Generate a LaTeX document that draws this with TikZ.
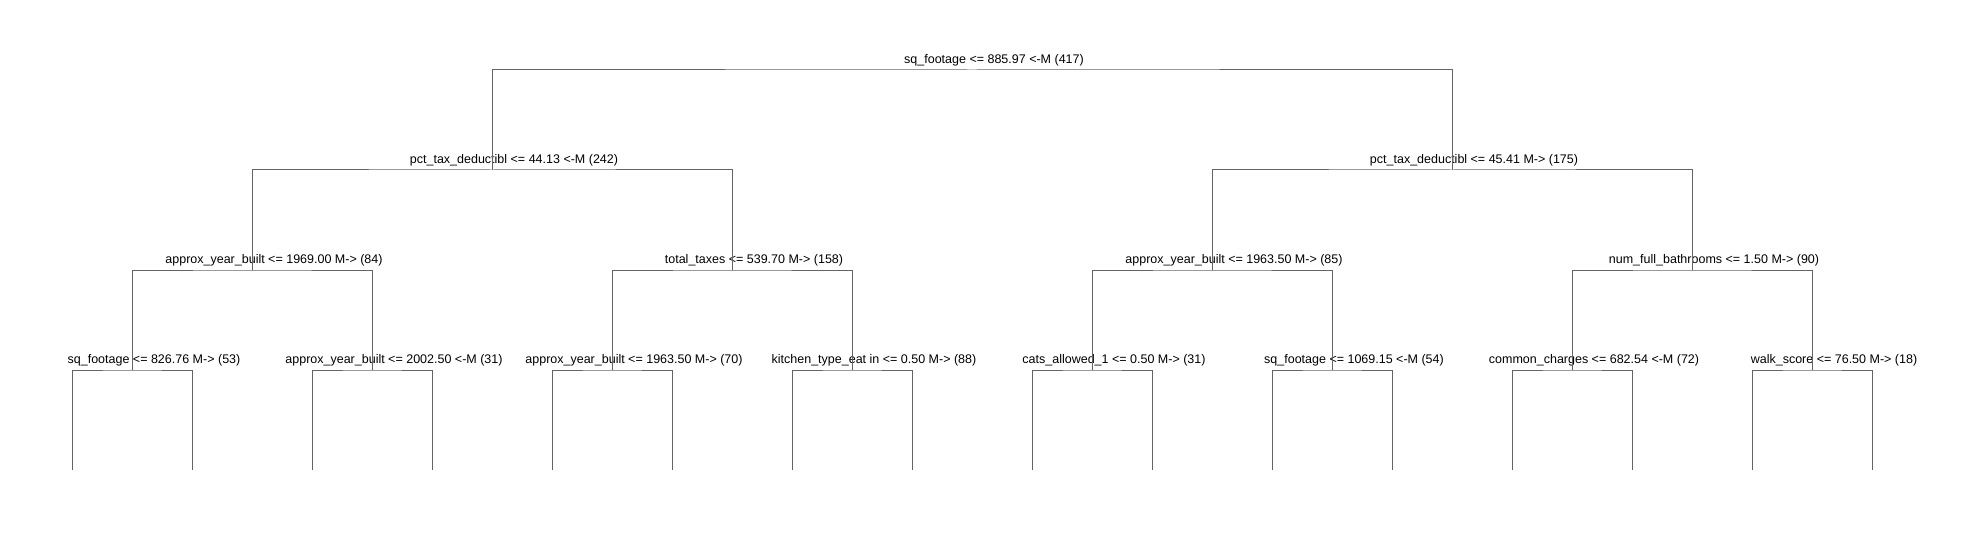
\documentclass[tikz,border=0pt]{standalone}
\usepackage{fontspec}
\setmainfont{Liberation Sans}
\usepackage{tikz}

\definecolor{branchgray}{RGB}{100,100,100}
\tikzset{
  branch/.style={draw=branchgray, line width=1pt},
  splitlabel/.style={anchor=base, xshift=22pt, yshift=6.5pt, inner sep=0pt, font=\fontsize{12.5}{14}\selectfont},
}

\begin{document}
\begin{tikzpicture}[x=1pt, y=-1pt]
                \useasboundingbox (0,0) rectangle (1981,540);
                % split points
                \coordinate (s0) at (972,70);
                \coordinate (s1) at (492,170);
                \coordinate (s2) at (1452,170);
                \coordinate (s11) at (252,270);
                \coordinate (s12) at (732,270);
                \coordinate (s21) at (1212,270);
                \coordinate (s22) at (1692,270);
                \coordinate (s111) at (132,370);
                \coordinate (s112) at (372,370);
                \coordinate (s121) at (612,370);
                \coordinate (s122) at (852,370);
                \coordinate (s211) at (1092,370);
                \coordinate (s212) at (1332,370);
                \coordinate (s221) at (1572,370);
                \coordinate (s222) at (1812,370);
                \foreach \i in {1,...,16}
                    \coordinate (t\i) at ({72+120*(\i-1)},470);
                % labels
                \node[splitlabel] (l0) at (s0) {sq\_footage <= 885.97 <-M (417)};
                \node[splitlabel] (l1) at (s1) {pct\_tax\_deductibl <= 44.13 <-M (242)};
                \node[splitlabel] (l2) at (s2) {pct\_tax\_deductibl <= 45.41 M-> (175)};
                \node[splitlabel] (l11) at (s11) {approx\_year\_built <= 1969.00 M-> (84)};
                \node[splitlabel] (l12) at (s12) {total\_taxes <= 539.70 M-> (158)};
                \node[splitlabel] (l21) at (s21) {approx\_year\_built <= 1963.50 M-> (85)};
                \node[splitlabel] (l22) at (s22) {num\_full\_bathrooms <= 1.50 M-> (90)};
                \node[splitlabel] (l111) at (s111) {sq\_footage <= 826.76 M-> (53)};
                \node[splitlabel] (l112) at (s112) {approx\_year\_built <= 2002.50 <-M (31)};
                \node[splitlabel] (l121) at (s121) {approx\_year\_built <= 1963.50 M-> (70)};
                \node[splitlabel] (l122) at (s122) {kitchen\_type\_eat in <= 0.50 M-> (88)};
                \node[splitlabel] (l211) at (s211) {cats\_allowed\_1 <= 0.50 M-> (31)};
                \node[splitlabel] (l212) at (s212) {sq\_footage <= 1069.15 <-M (54)};
                \node[splitlabel] (l221) at (s221) {common\_charges <= 682.54 <-M (72)};
                \node[splitlabel] (l222) at (s222) {walk\_score <= 76.50 M-> (18)};
                % branches
                \foreach \p/\a/\b in {s0/s1/s2, s1/s11/s12, s2/s21/s22,
                        s11/s111/s112, s12/s121/s122, s21/s211/s212, s22/s221/s222,
                        s111/t1/t2, s112/t3/t4, s121/t5/t6, s122/t7/t8,
                        s211/t9/t10, s212/t11/t12, s221/t13/t14, s222/t15/t16}
                    \draw[branch] (\a) |- (\p) -| (\b);
\end{tikzpicture}
\end{document}
